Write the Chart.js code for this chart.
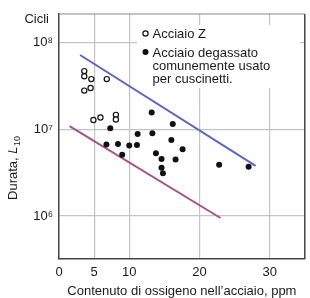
<!DOCTYPE html>
<html>
<head>
<meta charset="utf-8">
<script src="https://cdn.jsdelivr.net/npm/chart.js@4/dist/chart.umd.min.js"></script>
<style>
  html, body { margin: 0; padding: 0; background: #fff; }
  #wrap { width: 310px; height: 298px; }
</style>
</head>
<body>
<div id="wrap"><canvas id="c" width="310" height="298"></canvas></div>
<script>
// ---- data ----
const seriesLabels = ['Acciaio Z', 'Acciaio degassato comunemente usato per cuscinetti.'];
const legendLines = [['Acciaio Z'], ['Acciaio degassato', 'comunemente usato', 'per cuscinetti.']];

const zSteelX = [3.6, 3.6, 4.6, 6.8, 3.6, 4.5, 4.9, 5.9, 8.1, 8.1];
const zSteelY = [4.7e7, 4.1e7, 3.8e7, 3.8e7, 2.8e7, 3.0e7, 1.28e7, 1.37e7, 1.47e7, 1.30e7];

const degassedX = [7.3, 13.2, 16.2, 11.2, 13.3, 6.75, 8.4, 10.0, 11.1, 9.0, 13.8, 14.6, 14.6, 14.8, 16.0, 17.6, 16.6, 22.8, 27.0];
const degassedY = [1.03e7, 1.57e7, 1.15e7, 8.85e6, 9.0e6, 6.7e6, 6.8e6, 6.5e6, 6.6e6, 5.1e6, 5.3e6, 4.56e6, 3.62e6, 3.12e6, 7.55e6, 5.9e6, 4.5e6, 3.9e6, 3.7e6];

const upperLineX = [3, 28];
const upperLineY = [7.2e7, 3.8e6];
const lowerLineX = [1.5, 23];
const lowerLineY = [1.09e7, 9.5e5];

const xTicks = [0, 5, 10, 20, 30];
const yTicks = [1e6, 1e7, 1e8];
const yTickLabels = ['10\u2076', '10\u2077', '10\u2078'];

const xTitle = 'Contenuto di ossigeno nell\u2019acciaio, ppm';
const yTitleMain = 'Durata, ';
const yTitleVar = 'L';
const yTitleSub = '10';
const unitLabel = 'Cicli';

// ---- helpers ----
const pts = (xs, ys) => xs.map((x, i) => ({ x: x, y: ys[i] }));
const FONT = '"Liberation Sans", Arial, Helvetica, sans-serif';
const TEXT = '#1a1a1a';

const decorPlugin = {
  id: 'decor',
  beforeDatasetsDraw(chart) {
    const { ctx, chartArea: a } = chart;
    ctx.save();
    // top and right frame
    ctx.strokeStyle = '#8a8a8a';
    ctx.lineWidth = 1.2;
    ctx.beginPath(); ctx.moveTo(a.left, a.top); ctx.lineTo(a.right, a.top); ctx.stroke();
    ctx.strokeStyle = '#444';
    ctx.lineWidth = 1.5;
    ctx.beginPath(); ctx.moveTo(a.right, a.top); ctx.lineTo(a.right, a.bottom); ctx.stroke();
    // legend background
    ctx.fillStyle = '#fff';
    ctx.fillRect(137, 25, 163, 63);
    ctx.restore();
  },
  afterDraw(chart) {
    const { ctx } = chart;
    ctx.save();
    // legend markers
    ctx.lineWidth = 1.2;
    ctx.strokeStyle = '#111';
    ctx.fillStyle = '#fff';
    ctx.beginPath(); ctx.arc(145.5, 33.5, 2.6, 0, Math.PI * 2); ctx.fill(); ctx.stroke();
    ctx.fillStyle = '#111';
    ctx.beginPath(); ctx.arc(145.5, 52, 3, 0, Math.PI * 2); ctx.fill();
    // legend text
    ctx.fillStyle = TEXT;
    ctx.font = '13px ' + FONT;
    ctx.textAlign = 'left';
    ctx.textBaseline = 'alphabetic';
    ctx.fillText(legendLines[0][0], 152.5, 38);
    legendLines[1].forEach((t, i) => ctx.fillText(t, 152.5, 56.5 + i * 13));
    // unit label
    ctx.font = '13px ' + FONT;
    ctx.textAlign = 'right';
    ctx.fillText(unitLabel, 49, 22.5);
    // y title, rotated
    ctx.translate(16.5, 168);
    ctx.rotate(-Math.PI / 2);
    ctx.textAlign = 'left';
    const fMain = '13px ' + FONT, fVar = 'italic 13px ' + FONT, fSub = '9px ' + FONT;
    ctx.font = fMain; const w1 = ctx.measureText(yTitleMain).width;
    ctx.font = fVar; const w2 = ctx.measureText(yTitleVar).width;
    ctx.font = fSub; const w3 = ctx.measureText(yTitleSub).width;
    let x0 = -(w1 + w2 + w3 + 0.5) / 2;
    ctx.font = fMain; ctx.fillText(yTitleMain, x0, 0);
    ctx.font = fVar; ctx.fillText(yTitleVar, x0 + w1, 0);
    ctx.font = fSub; ctx.fillText(yTitleSub, x0 + w1 + w2 + 0.5, 3);
    ctx.restore();
  }
};

new Chart(document.getElementById('c'), {
  type: 'scatter',
  data: {
    datasets: [
      {
        label: seriesLabels[0],
        data: pts(zSteelX, zSteelY),
        pointRadius: 2.6,
        pointBorderWidth: 1.2,
        pointBackgroundColor: '#fff',
        pointBorderColor: '#111',
        order: 1
      },
      {
        label: seriesLabels[1],
        data: pts(degassedX, degassedY),
        pointRadius: 3,
        pointBorderWidth: 0,
        pointBackgroundColor: '#111',
        pointBorderColor: '#111',
        order: 1
      },
      {
        label: 'upper',
        type: 'line',
        data: pts(upperLineX, upperLineY),
        borderColor: '#5b68b9',
        borderWidth: 2,
        pointRadius: 0,
        fill: false,
        order: 2
      },
      {
        label: 'lower',
        type: 'line',
        data: pts(lowerLineX, lowerLineY),
        borderColor: '#a6518b',
        borderWidth: 2,
        pointRadius: 0,
        fill: false,
        order: 2
      }
    ]
  },
  options: {
    responsive: false,
    animation: false,
    devicePixelRatio: 1,
    layout: { padding: { top: 14, right: 4, left: 0, bottom: 0 } },
    plugins: { legend: { display: false }, tooltip: { enabled: false } },
    scales: {
      x: {
        type: 'linear',
        min: 0,
        max: 35,
        afterBuildTicks: (s) => { s.ticks = xTicks.map(v => ({ value: v })); },
        afterFit: (s) => { s.height = 39; },
        grid: {
          drawTicks: false,
          color: (c) => (c.tick && c.tick.value === 0) ? 'rgba(0,0,0,0)' : '#c4c4c4',
          lineWidth: 1.2
        },
        border: { color: '#444', width: 1.5 },
        ticks: {
          padding: 6,
          color: TEXT,
          font: { family: FONT, size: 13 },
          maxRotation: 0,
          autoSkip: false
        },
        title: {
          display: true,
          text: xTitle,
          color: TEXT,
          font: { family: FONT, size: 13, lineHeight: 1 },
          padding: { top: 0, bottom: 0 }
        }
      },
      y: {
        type: 'logarithmic',
        min: 3.2e5,
        max: 2.14e8,
        afterBuildTicks: (s) => { s.ticks = yTicks.map(v => ({ value: v })); },
        afterFit: (s) => { s.width = 59; },
        grid: { drawTicks: false, color: '#c4c4c4', lineWidth: 1.2 },
        border: { color: '#444', width: 1.5 },
        ticks: {
          padding: 6,
          color: TEXT,
          font: { family: FONT, size: 13 },
          autoSkip: false,
          callback: (v, i) => yTickLabels[i]
        }
      }
    }
  },
  plugins: [decorPlugin]
});
</script>
</body>
</html>
